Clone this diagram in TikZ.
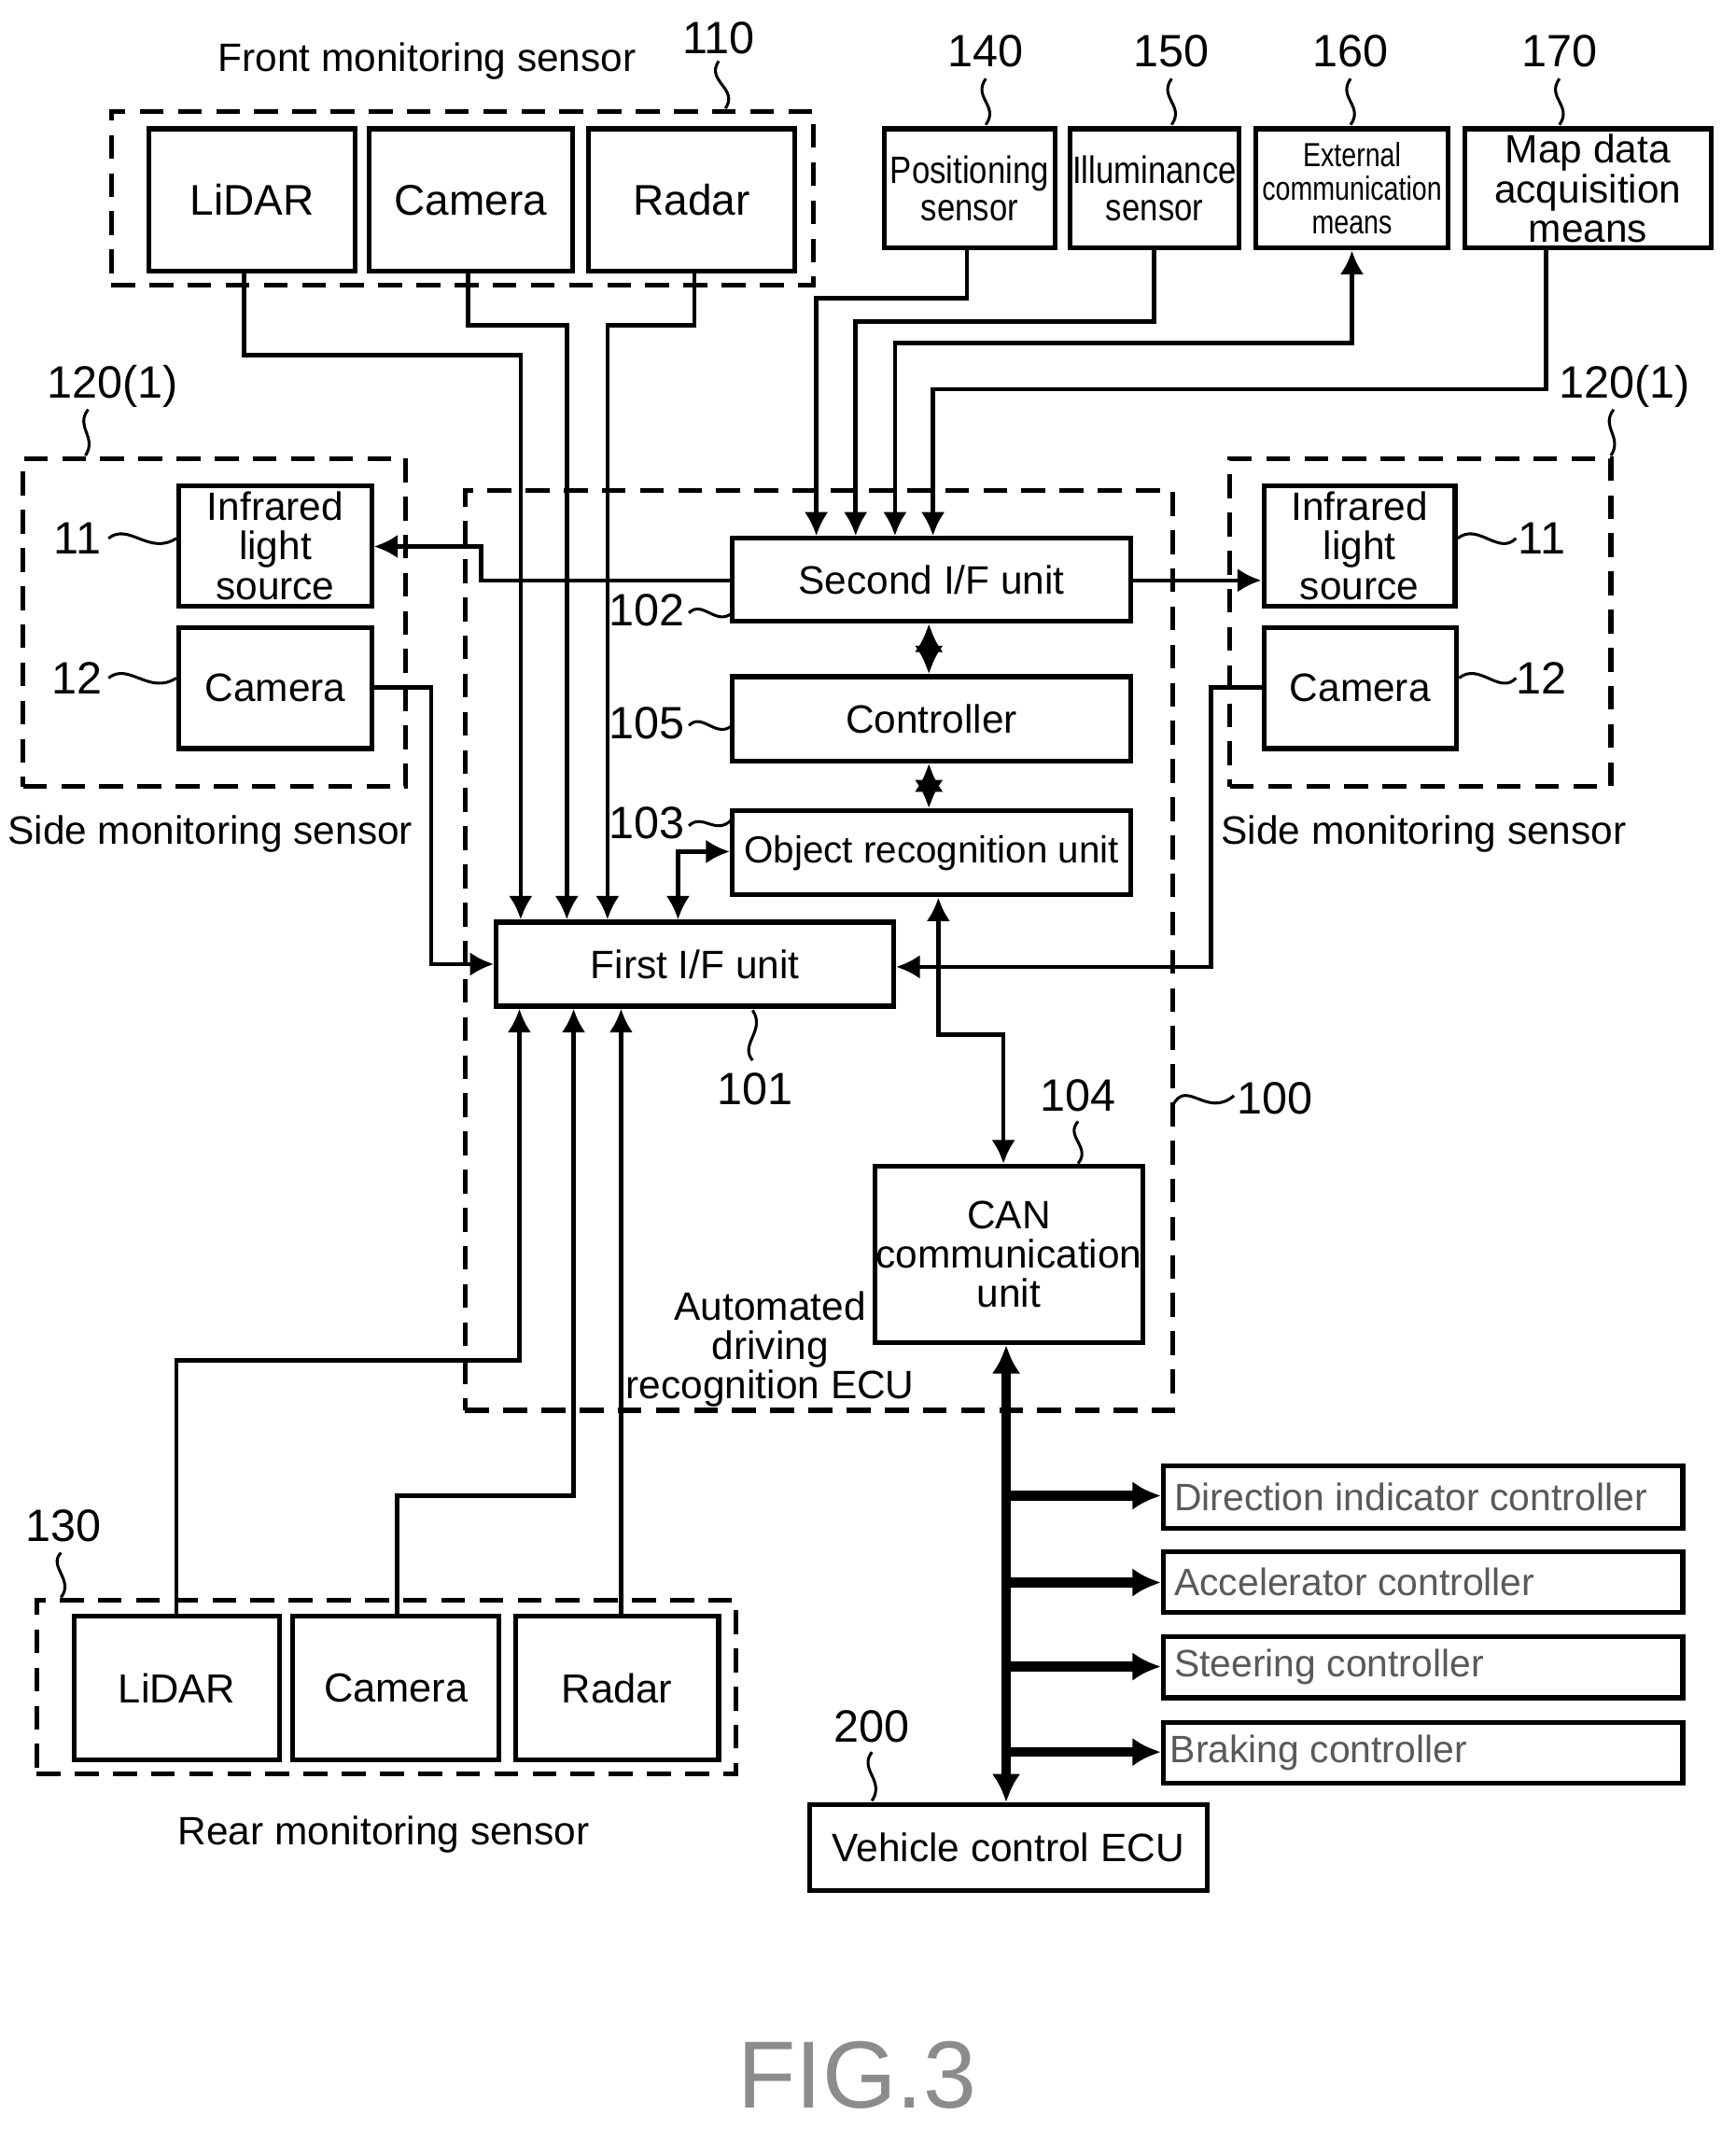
\documentclass[tikz,border=0pt]{standalone}
\usepackage{fontspec}
\setmainfont{Liberation Sans}
\usetikzlibrary{arrows.meta,fit}
\newcommand\myfs[1]{\fontsize{#1}{#1}\selectfont}
\newcommand\bx[5][]{\node[box,fit={#3}] (#2) {}; \node[font=#4,align=center,inner sep=0pt,#1] (#2t) at (#2.center) {#5};}
\begin{document}
\begin{tikzpicture}[x=0.01cm,y=-0.01cm,
  line width=0.9pt,
  box/.style={draw,line width=1pt,inner sep=0pt},
  dbox/.style={draw,line width=1pt,inner sep=0pt,dash pattern=on 5pt off 3pt},
  lab/.style={font=\myfs{8.3}},
  num/.style={font=\myfs{9.5}},
  arr/.style={-{Latex[length=5pt,width=5pt]}},
  darr/.style={{Latex[length=5pt,width=5pt]}-{Latex[length=5pt,width=5pt]}},
  bus/.style={line width=2pt,{Latex[length=6pt,width=6pt]}-{Latex[length=6pt,width=6pt]}},
  busa/.style={line width=2pt,-{Latex[length=6pt,width=6pt]}},
  lead/.style={line width=0.6pt}]
\useasboundingbox (0,0) rectangle (1280,1570);
% front
\node[dbox,fit={(82,82) (600,210)}] (front) {};
\node[lab] (frontl) at (315,45) {Front monitoring sensor};
\node[num] (n110) at (530,28) {110};
\draw[lead] (530,45) .. controls (520,60) and (545,65) .. (535,80);
\bx{fli}{(110,95) (262,200)}{\myfs{9}}{LiDAR}
\bx{fca}{(272,95) (422,200)}{\myfs{9}}{Camera}
\bx{fra}{(434,95) (586,200)}{\myfs{9}}{Radar}
% top sensors
\node[num] at (727,38) {140};
\node[num] at (864,38) {150};
\node[num] at (996,38) {160};
\node[num] at (1150,38) {170};
\foreach \x in {727,864,996,1150}{\draw[lead] (\x,58) .. controls (\x-10,72) and (\x+10,78) .. (\x,92);}
\bx[xscale=0.85]{pos}{(652,95) (778,183)}{\myfs{8}}{Positioning\\sensor}
\bx[xscale=0.85]{ill}{(789,95) (914,183)}{\myfs{8}}{Illuminance\\sensor}
\bx[xscale=0.8]{ext}{(926,95) (1068,183)}{\myfs{7}}{External\\communication\\means}
\bx{map}{(1080,95) (1262,183)}{\myfs{8.3}}{Map data\\acquisition\\means}
% side left
\node[dbox,fit={(17,338) (299,580)}] (sl) {};
\node[num] at (83,285) {120(1)};
\draw[lead] (65,302) .. controls (55,315) and (72,322) .. (63,336);
\bx{irl}{(132,358) (274,447)}{\myfs{8.3}}{Infrared\\light\\source}
\bx{cal}{(132,463) (274,552)}{\myfs{8.3}}{Camera}
\node[num] at (57,397) {11};
\node[num] at (57,500) {12};
\draw[lead] (80,397) .. controls (95,385) and (110,410) .. (130,397);
\draw[lead] (80,500) .. controls (95,488) and (110,513) .. (130,500);
\node[lab] at (155,615) {Side monitoring sensor};
% side right
\node[dbox,fit={(907,338) (1188,580)}] (sr) {};
\node[num] at (1198,285) {120(1)};
\draw[lead] (1190,302) .. controls (1180,315) and (1197,322) .. (1188,336);
\bx{irr}{(932,358) (1073,447)}{\myfs{8.3}}{Infrared\\light\\source}
\bx{car}{(932,463) (1074,552)}{\myfs{8.3}}{Camera}
\node[num] at (1137,397) {11};
\node[num] at (1137,500) {12};
\draw[lead] (1075,397) .. controls (1090,385) and (1105,410) .. (1118,397);
\draw[lead] (1076,500) .. controls (1091,488) and (1106,513) .. (1118,500);
\node[lab] at (1050,615) {Side monitoring sensor};
% ECU
\node[dbox,fit={(343,362) (865,1040)}] (ecu) {};
\node[num] at (940,810) {100};
\draw[lead] (865,815) .. controls (875,795) and (890,825) .. (910,808);
\bx{sif}{(540,397) (834,458)}{\myfs{8.3}}{Second I/F unit}
\bx{ctrl}{(540,499) (834,561)}{\myfs{8.3}}{Controller}
\bx{obj}{(540,598) (834,660)}{\myfs{7.9}}{Object recognition unit}
\bx{fif}{(366,680) (659,742)}{\myfs{8.3}}{First I/F unit}
\bx{can}{(645,860) (843,990)}{\myfs{8.3}}{CAN\\communication\\unit}
\node[num] at (477,450) {102};
\node[num] at (477,533) {105};
\node[num] at (477,607) {103};
\draw[lead] (508,452) .. controls (518,442) and (528,462) .. (540,452);
\draw[lead] (508,535) .. controls (518,525) and (528,545) .. (540,535);
\draw[lead] (508,609) .. controls (518,599) and (528,617) .. (540,604);
\node[num] at (557,803) {101};
\draw[lead] (555,782) .. controls (545,770) and (565,760) .. (555,745);
\node[num] at (795,808) {104};
\draw[lead] (795,827) .. controls (785,838) and (805,846) .. (795,858);
\node[lab,align=center] at (568,995) {Automated\\driving\\recognition ECU};
% rear
\node[dbox,fit={(27,1180) (543,1308)}] (rear) {};
\bx{rli}{(55,1192) (206,1298)}{\myfs{8.5}}{LiDAR}
\bx{rca}{(216,1192) (368,1298)}{\myfs{8.5}}{Camera}
\bx{rra}{(380,1192) (530,1298)}{\myfs{8.5}}{Radar}
\node[num] at (47,1125) {130};
\draw[lead] (45,1145) .. controls (35,1155) and (55,1165) .. (45,1178);
\node[lab] at (283,1353) {Rear monitoring sensor};
% controllers
\bx[text=black!65,anchor=west,xshift=-1.85cm]{dir}{(858,1081) (1241,1127)}{\myfs{8}}{Direction indicator controller}
\bx[text=black!65,anchor=west,xshift=-1.85cm]{acc}{(858,1144) (1241,1189)}{\myfs{8}}{Accelerator controller}
\bx[text=black!65,anchor=west,xshift=-1.85cm]{ste}{(858,1207) (1241,1252)}{\myfs{8}}{Steering controller}
\bx[text=black!65,anchor=west,xshift=-1.88cm]{bra}{(858,1270) (1241,1315)}{\myfs{8}}{Braking controller}
\bx{vce}{(597,1331) (890,1394)}{\myfs{8.3}}{Vehicle control ECU}
\node[num] at (643,1273) {200};
\draw[lead] (643,1292) .. controls (633,1305) and (653,1313) .. (643,1328);
\node[font=\myfs{20},text=black!45] (fig) at (632,1530) {FIG.3};
% connectors front
\draw[arr] (fli.south -| 180,0) |- (384,262) -- (fif.north -| 384,0);
\draw[arr] (fca.south -| 345,0) |- (418,240) -- (fif.north -| 418,0);
\draw[arr] (fra.south -| 512,0) |- (448,240) -- (fif.north -| 448,0);
% top sensors
\draw[arr] (pos.south -| 713,0) |- (602,220) -- (sif.north -| 602,0);
\draw[arr] (ill.south -| 851,0) |- (631,237) -- (sif.north -| 631,0);
\draw[darr] (sif.north -| 660,0) |- (997,253) -- (ext.south -| 997,0);
\draw[arr] (map.south -| 1140,0) |- (688,287) -- (sif.north -| 688,0);
% side
\draw[arr] (sif.west |- 0,428) -- (355,428) |- (irl.east |- 0,403);
\draw[arr] (sif.east |- 0,428) -- (irr.west |- 0,428);
\draw[arr] (cal.east |- 0,507) -| (318,711) -- (fif.west |- 0,711);
\draw[arr] (car.west |- 0,507) -| (893,713) -- (fif.east |- 0,713);
% inner
\draw[bus,line width=1.6pt] (sif.south -| 685,0) -- (ctrl.north -| 685,0);
\draw[bus,line width=1.6pt] (ctrl.south -| 685,0) -- (obj.north -| 685,0);
\draw[darr] (fif.north -| 500,0) |- (obj.west |- 0,628);
\draw[darr] (obj.south -| 692,0) |- (740,763) -- (can.north -| 740,0);
% rear
\draw[arr] (rli.north -| 130,0) |- (383,1003) -- (fif.south -| 383,0);
\draw[arr] (rca.north -| 293,0) |- (423,1103) -- (fif.south -| 423,0);
\draw[arr] (rra.north -| 458,0) -- (fif.south -| 458,0);
% CAN bus
\draw[bus] (can.south -| 742,0) -- (vce.north -| 742,0);
\draw[busa] (742,1103) -- (dir.west |- 0,1103);
\draw[busa] (742,1167) -- (acc.west |- 0,1167);
\draw[busa] (742,1229) -- (ste.west |- 0,1229);
\draw[busa] (742,1292) -- (bra.west |- 0,1292);
\end{tikzpicture}
\end{document}
